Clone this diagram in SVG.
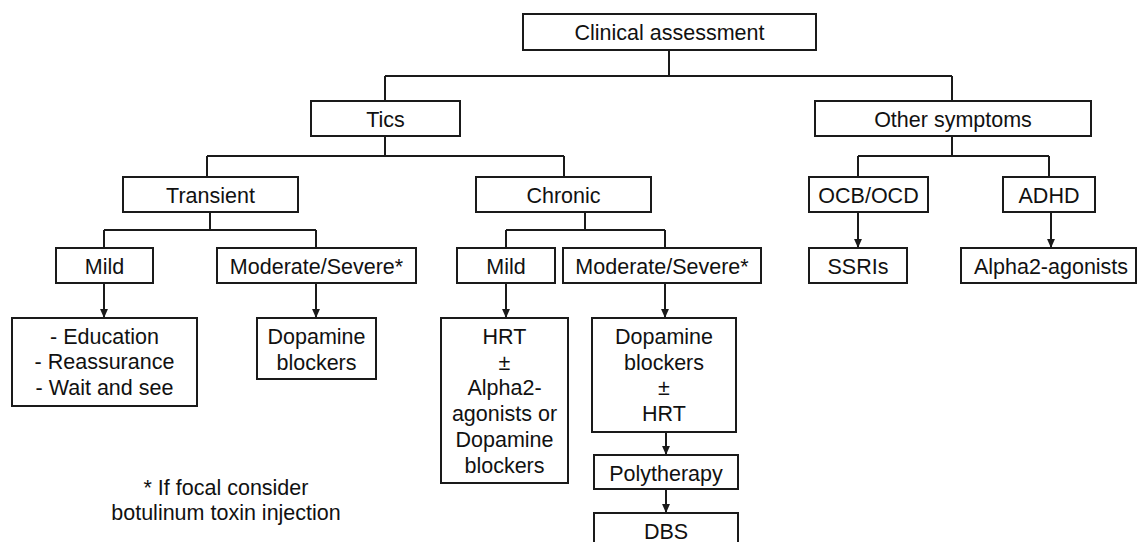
<svg xmlns="http://www.w3.org/2000/svg" width="1137" height="542" viewBox="0 0 1137 542">
<style>
rect.b{fill:#fff;stroke:#1a1a1a;stroke-width:2}
text{font-family:"Liberation Sans",Arial,sans-serif;font-size:21.5px;fill:#111;text-anchor:middle}
.c path{fill:none;stroke:#1a1a1a;stroke-width:2}
.c path.a{marker-end:url(#ah)}
</style>
<defs>
<marker id="ah" markerUnits="userSpaceOnUse" markerWidth="9" markerHeight="9" viewBox="0 0 8 8" refX="8" refY="4" orient="auto">
<path d="M0,0.5 L8,4 L0,7.5 z" fill="#1a1a1a"/>
</marker>
</defs>
<rect width="1137" height="542" fill="#fff"/>
<g class="c" id="connectors">
<path d="M669,50 V76 M385,76 H952 M385,76 V101 M952,76 V101"/>
<path d="M385,136 V156 M207,156 H564 M207,156 V177 M564,156 V177"/>
<path d="M952,136 V156 M858,156 H1049 M858,156 V177 M1049,156 V177"/>
<path d="M210,212 V230 M104,230 H316 M104,230 V248 M316,230 V248"/>
<path d="M585,212 V230 M506,230 H665 M506,230 V248 M665,230 V248"/>
<path class="a" d="M858,212 V248"/>
<path class="a" d="M1051,212 V248"/>
<path class="a" d="M104,283 V318"/>
<path class="a" d="M316,283 V318"/>
<path class="a" d="M506,283 V318"/>
<path class="a" d="M665,283 V318"/>
<path class="a" d="M666,432 V455"/>
<path class="a" d="M666,489 V513"/>
</g>
<g id="n-clinical"><rect class="b" x="523" y="14" width="293" height="36"/><text x="669.5" y="40">Clinical assessment</text></g>
<g id="n-tics"><rect class="b" x="311" y="101" width="149" height="35"/><text x="385.5" y="127">Tics</text></g>
<g id="n-other"><rect class="b" x="815" y="101" width="276" height="35"/><text x="953" y="127">Other symptoms</text></g>
<g id="n-transient"><rect class="b" x="123" y="177" width="175" height="35"/><text x="210.5" y="203">Transient</text></g>
<g id="n-chronic"><rect class="b" x="476" y="177" width="175" height="35"/><text x="563.5" y="203">Chronic</text></g>
<g id="n-ocb"><rect class="b" x="809" y="177" width="119" height="35"/><text x="868.5" y="203">OCB/OCD</text></g>
<g id="n-adhd"><rect class="b" x="1003" y="177" width="92" height="35"/><text x="1049" y="203">ADHD</text></g>
<g id="n-mild-t"><rect class="b" x="56" y="248" width="97" height="35"/><text x="104.5" y="274">Mild</text></g>
<g id="n-mod-t"><rect class="b" x="217" y="248" width="199" height="35"/><text x="316.5" y="274">Moderate/Severe*</text></g>
<g id="n-mild-c"><rect class="b" x="457" y="248" width="98" height="35"/><text x="506" y="274">Mild</text></g>
<g id="n-mod-c"><rect class="b" x="563" y="248" width="198" height="35"/><text x="662" y="274">Moderate/Severe*</text></g>
<g id="n-ssri"><rect class="b" x="809" y="248" width="98" height="35"/><text x="858" y="274">SSRIs</text></g>
<g id="n-alpha"><rect class="b" x="961" y="248" width="175" height="35"/><text x="1051" y="274">Alpha2-agonists</text></g>
<g id="n-edu"><rect class="b" x="12" y="318" width="185" height="88"/><text x="104.5" y="343.5">- Education</text><text x="104.5" y="369.2">- Reassurance</text><text x="104.5" y="395">- Wait and see</text></g>
<g id="n-dop-t"><rect class="b" x="257" y="318" width="119" height="61"/><text x="316.5" y="344">Dopamine</text><text x="316.5" y="369.7">blockers</text></g>
<g id="n-hrt"><rect class="b" x="441" y="318" width="127" height="165"/><text x="504.5" y="344">HRT</text><text x="504.5" y="369.7">±</text><text x="504.5" y="395.4">Alpha2-</text><text x="504.5" y="421.1">agonists or</text><text x="504.5" y="446.8">Dopamine</text><text x="504.5" y="472.5">blockers</text></g>
<g id="n-dop-c"><rect class="b" x="592" y="318" width="144" height="114"/><text x="664" y="344">Dopamine</text><text x="664" y="369.7">blockers</text><text x="664" y="395.4">±</text><text x="664" y="421.1">HRT</text></g>
<g id="n-poly"><rect class="b" x="594" y="455" width="144" height="34"/><text x="666" y="481">Polytherapy</text></g>
<g id="n-dbs"><rect class="b" x="594" y="513" width="144" height="36"/><text x="666" y="539">DBS</text></g>
<g id="footnote"><text x="226" y="495">* If focal consider</text><text x="226" y="520">botulinum toxin injection</text></g>
</svg>
